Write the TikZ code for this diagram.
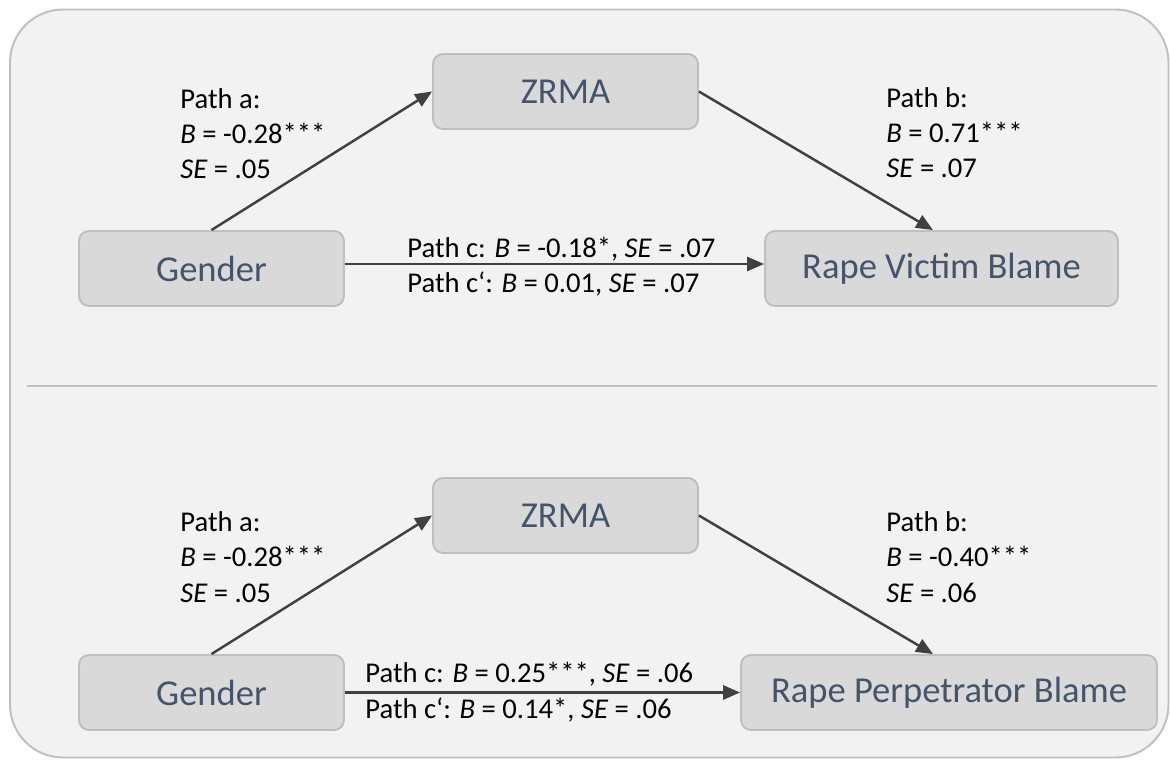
\documentclass[tikz,border=0pt]{standalone}
\usepackage{fontspec}
\setmainfont{Carlito}
\usetikzlibrary{arrows.meta,positioning,calc}

\definecolor{boxfill}{HTML}{D9D9D9}
\definecolor{boxline}{HTML}{BFBFBF}
\definecolor{panel}{HTML}{F2F2F2}
\definecolor{vartext}{HTML}{44546A}
\definecolor{pathline}{HTML}{404040}

\begin{document}
\begin{tikzpicture}[x=0.02cm, y=-0.02cm, >={Triangle[length=9.6pt,width=8pt]},
  var/.style={draw=boxline, line width=1.1pt, fill=boxfill, rounded corners=0.2cm,
    minimum height=1.5cm, text=vartext, font=\fontsize{20.8}{24}\selectfont},
  coef/.style={anchor=base west, align=left, inner sep=0pt,
    font=\fontsize{16.3}{20.1}\selectfont},
  effect/.style={->, draw=pathline, line width=1.4pt}]
\useasboundingbox (0,0) rectangle (1170,760);
\fill[white] (0,0) rectangle (1170,760);
\draw[boxline, line width=1.1pt, fill=panel, rounded corners=1.06cm] (10,9.5) rectangle (1168.5,757.5);
\draw[boxline, line width=1.1pt] (27,386) -- (1157,386);

% victim blame
\node[var, minimum width=5.3cm] (gen1) at (211.5,268.5) {Gender};
\node[var, minimum width=5.3cm] (zrma1) at (565.5,91.5) {ZRMA};
\node[var, minimum width=7.06cm] (rvb) at (941.5,268.5) {Rape Victim Blame};
\node[coef] (a1) at (180,179) {Path a:\\\textit{B} = -0.28***\\\textit{SE} = .05};
\node[coef] (b1) at (886,178) {Path b:\\\textit{B} = 0.71***\\\textit{SE} = .07};
\node[coef] (c1) at (407,293) {Path c: \textit{B} = -0.18*, \textit{SE} = .07\\Path c‘: \textit{B} = 0.01, \textit{SE} = .07};
\draw[effect] (gen1.north) -- (zrma1.west);
\draw[effect] (zrma1.east) -- ([xshift=-0.17cm]rvb.north);
\draw[effect] ([yshift=0.09cm]gen1.east) -- ([yshift=0.09cm]rvb.west);

% perpetrator blame
\node[var, minimum width=5.3cm] (gen2) at (211.5,692.5) {Gender};
\node[var, minimum width=5.3cm] (zrma2) at (565.5,515.5) {ZRMA};
\node[var, minimum width=8.32cm] (rpb) at (949,692.5) {Rape Perpetrator Blame};
\node[coef] (a2) at (180,602) {Path a:\\\textit{B} = -0.28***\\\textit{SE} = .05};
\node[coef] (b2) at (886,602) {Path b:\\\textit{B} = -0.40***\\\textit{SE} = .06};
\node[coef] (c2) at (365,718) {Path c: \textit{B} = 0.25***, \textit{SE} = .06\\Path c‘: \textit{B} = 0.14*, \textit{SE} = .06};
\draw[effect] (gen2.north) -- (zrma2.west);
\draw[effect] (zrma2.east) -- ([xshift=-0.32cm]rpb.north);
\draw[effect] (gen2.east) -- (rpb.west);
\end{tikzpicture}
\end{document}
